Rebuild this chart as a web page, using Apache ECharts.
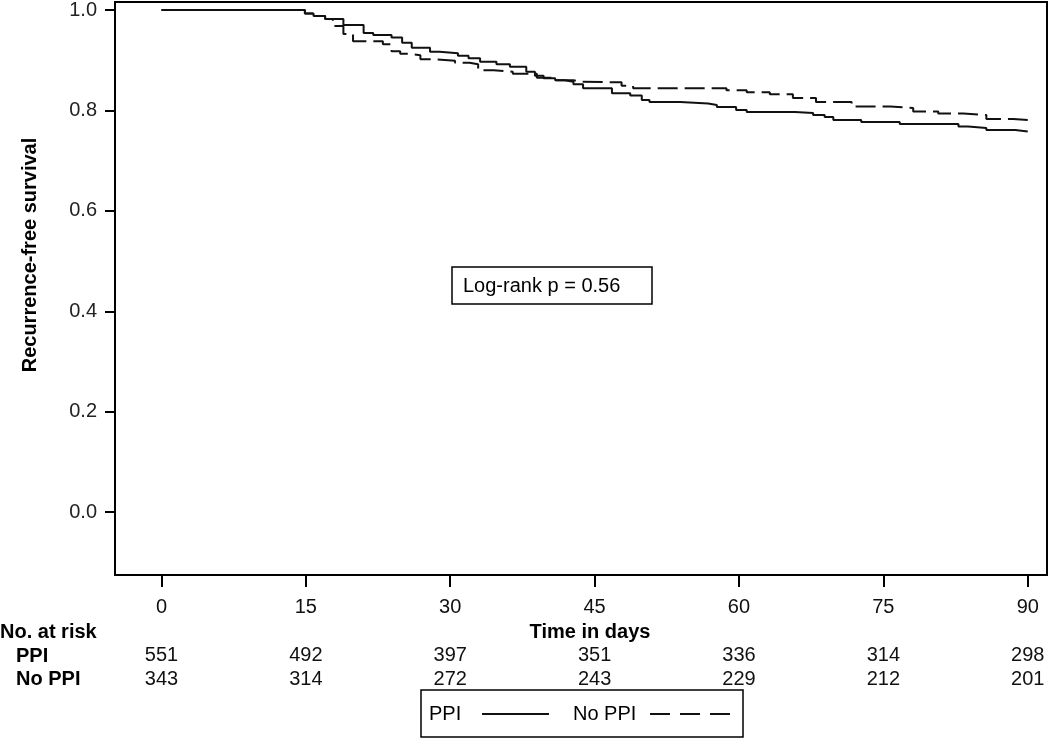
<!DOCTYPE html>
<html>
<head>
<meta charset="utf-8">
<script src="https://cdn.jsdelivr.net/npm/echarts@6/dist/echarts.min.js"></script>
<style>
  html, body { margin: 0; padding: 0; background: #fff; }
  #chart { width: 1050px; height: 739px; }
</style>
</head>
<body>
<div id="chart"></div>
<script>
// ---- data ----
const xTicks = [0, 15, 30, 45, 60, 75, 90];
const yTicks = [0, 0.2, 0.4, 0.6, 0.8, 1.0];
const ppiRisk = [551, 492, 397, 351, 336, 314, 298];
const noPpiRisk = [343, 314, 272, 243, 229, 212, 201];

const ppiTimes = [0, 14.9, 15.8, 17.0, 18.9, 21.0, 22.0, 23.9, 25.0, 26.0, 27.9, 28.9, 30.8, 31.9, 33.1, 34.8, 36.2, 37.9, 38.8, 39.7, 40.9, 41.9, 42.8, 43.8, 46.8, 48.7, 49.9, 50.7, 53.9, 56.8, 57.7, 59.7, 60.8, 65.8, 67.7, 68.9, 69.8, 72.7, 76.7, 82.8, 83.8, 85.7, 88.7, 90];
const ppiSurv = [1.000, 0.993, 0.988, 0.982, 0.970, 0.954, 0.950, 0.945, 0.935, 0.925, 0.917, 0.914, 0.909, 0.904, 0.897, 0.892, 0.887, 0.877, 0.869, 0.864, 0.860, 0.857, 0.852, 0.844, 0.834, 0.830, 0.821, 0.817, 0.814, 0.811, 0.807, 0.801, 0.797, 0.795, 0.791, 0.787, 0.781, 0.777, 0.773, 0.768, 0.765, 0.761, 0.758, 0.758];

const noPpiTimes = [0, 14.9, 15.8, 17.0, 17.8, 18.9, 19.9, 23.0, 23.9, 24.8, 25.8, 26.9, 28.1, 30.5, 32.0, 32.9, 34.5, 35.2, 36.5, 39.0, 41.0, 42.8, 43.5, 47.8, 49.0, 58.7, 60.8, 63.2, 65.6, 68.0, 71.7, 75.7, 78.1, 80.7, 83.3, 85.7, 88.5, 90];
const noPpiSurv = [1.000, 0.993, 0.988, 0.982, 0.968, 0.952, 0.938, 0.932, 0.918, 0.913, 0.910, 0.902, 0.899, 0.895, 0.892, 0.880, 0.879, 0.877, 0.873, 0.865, 0.860, 0.857, 0.856, 0.849, 0.844, 0.840, 0.836, 0.832, 0.825, 0.817, 0.808, 0.805, 0.798, 0.794, 0.791, 0.783, 0.781, 0.781];

const seriesNames = ['PPI', 'No PPI'];
const pText = 'Log-rank p = 0.56';

// ---- chart ----
const FONT = '"Liberation Sans", Arial, sans-serif';
const chart = echarts.init(document.getElementById('chart'), null, { renderer: 'canvas' });

function pairs(t, s) { return t.map((x, i) => [x, s[i]]); }

const option = {
  animation: false,
  backgroundColor: '#fff',
  grid: {
    left: 115, right: 3, top: 1, bottom: 164,
    show: true, borderColor: '#000', borderWidth: 2, backgroundColor: 'transparent'
  },
  xAxis: {
    type: 'value',
    min: -4.83, max: 92.0,
    axisLine: { show: true, onZero: false, lineStyle: { color: '#000', width: 2 } },
    axisTick: { show: true, customValues: xTicks, length: 12, lineStyle: { color: '#000', width: 2 } },
    splitLine: { show: false },
    axisLabel: {
      customValues: xTicks,
      margin: 20,
      formatter: function (v) {
        const i = xTicks.indexOf(Math.round(v));
        return '{t|' + xTicks[i] + '}\n{b| }\n{n|' + ppiRisk[i] + '}\n{n|' + noPpiRisk[i] + '}';
      },
      rich: {
        t: { fontFamily: FONT, fontSize: 20, color: '#111', lineHeight: 24 },
        b: { fontFamily: FONT, fontSize: 20, lineHeight: 24 },
        n: { fontFamily: FONT, fontSize: 20, color: '#111', lineHeight: 24 }
      }
    }
  },
  yAxis: {
    type: 'value',
    min: -0.125, max: 1.016,
    axisLine: { show: true, onZero: false, lineStyle: { color: '#000', width: 2 } },
    axisTick: { show: true, customValues: yTicks, length: 10, lineStyle: { color: '#000', width: 2 } },
    splitLine: { show: false },
    axisLabel: {
      customValues: yTicks,
      margin: 18,
      fontFamily: FONT, fontSize: 20, color: '#222',
      formatter: v => v.toFixed(1)
    }
  },
  series: [
    {
      name: seriesNames[0], type: 'line', step: 'end', showSymbol: false, symbol: 'none',
      data: pairs(ppiTimes, ppiSurv),
      lineStyle: { color: '#111', width: 2, type: 'solid' }
    },
    {
      name: seriesNames[1], type: 'line', step: 'end', showSymbol: false, symbol: 'none',
      data: pairs(noPpiTimes, noPpiSurv),
      lineStyle: { color: '#111', width: 2, type: [20, 7] }
    }
  ],
  graphic: [
    // y axis title
    { type: 'text', x: 30, y: 255, rotation: Math.PI / 2,
      style: { text: 'Recurrence-free survival', font: 'bold 20px ' + FONT, fill: '#000', align: 'center', verticalAlign: 'middle' } },
    // x axis title
    { type: 'text', x: 590, y: 632,
      style: { text: 'Time in days', font: 'bold 20px ' + FONT, fill: '#000', align: 'center', verticalAlign: 'middle' } },
    // risk table headers
    { type: 'text', x: 0, y: 632,
      style: { text: 'No. at risk', font: 'bold 20px ' + FONT, fill: '#000', align: 'left', verticalAlign: 'middle' } },
    { type: 'text', x: 16, y: 656,
      style: { text: seriesNames[0], font: 'bold 20px ' + FONT, fill: '#000', align: 'left', verticalAlign: 'middle' } },
    { type: 'text', x: 16, y: 679,
      style: { text: seriesNames[1], font: 'bold 20px ' + FONT, fill: '#000', align: 'left', verticalAlign: 'middle' } },
    // log-rank box
    { type: 'rect', shape: { x: 452, y: 267, width: 200, height: 37 },
      style: { fill: '#fff', stroke: '#000', lineWidth: 1.5 } },
    { type: 'text', x: 463, y: 286,
      style: { text: pText, font: '20px ' + FONT, fill: '#000', align: 'left', verticalAlign: 'middle' } },
    // legend box
    { type: 'rect', shape: { x: 421, y: 690, width: 322, height: 47 },
      style: { fill: '#fff', stroke: '#000', lineWidth: 1.5 } },
    { type: 'text', x: 429, y: 714,
      style: { text: seriesNames[0], font: '20px ' + FONT, fill: '#000', align: 'left', verticalAlign: 'middle' } },
    { type: 'line', shape: { x1: 482, y1: 714, x2: 549, y2: 714 },
      style: { stroke: '#111', lineWidth: 2 } },
    { type: 'text', x: 573, y: 714,
      style: { text: seriesNames[1], font: '20px ' + FONT, fill: '#000', align: 'left', verticalAlign: 'middle' } },
    { type: 'line', shape: { x1: 650, y1: 714, x2: 730, y2: 714 },
      style: { stroke: '#111', lineWidth: 2, lineDash: [20, 10] } }
  ]
};
chart.setOption(option);
</script>
</body>
</html>
